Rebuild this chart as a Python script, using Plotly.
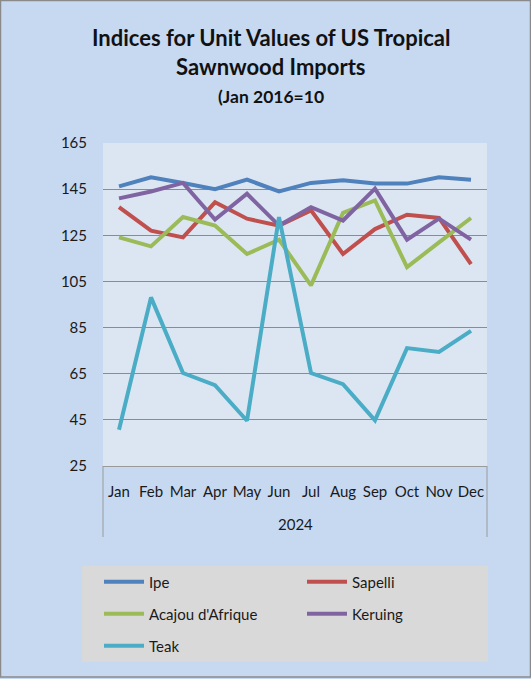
import plotly.graph_objects as go

months = ["Jan", "Feb", "Mar", "Apr", "May", "Jun", "Jul", "Aug", "Sep", "Oct", "Nov", "Dec"]
year_label = "2024"
ipe = [146.2, 150.1, 147.7, 145.0, 149.1, 144.0, 147.7, 148.8, 147.4, 147.4, 150.1, 149.1]
sapelli = [137.2, 127.0, 124.1, 139.3, 132.2, 129.2, 135.8, 116.9, 127.7, 133.9, 132.5, 112.5]
acajou = [124.1, 120.2, 132.9, 129.2, 116.9, 123.1, 103.3, 134.7, 140.1, 111.2, 121.9, 132.5]
keruing = [141.0, 144.0, 147.7, 131.8, 143.0, 129.2, 137.2, 131.4, 145.2, 123.1, 132.2, 123.1]
teak = [40.7, 98.1, 65.3, 60.0, 44.6, 132.9, 65.3, 60.5, 44.8, 76.1, 74.4, 83.6]
y_ticks = [25, 45, 65, 85, 105, 125, 145, 165]

W, H = 531, 679
L, R, T, B = 103, 44, 143, 213
pw, ph = W - L - R, H - T - B


def px(x):
    return (x - L) / pw


def py(y):
    return (H - B - y) / ph


# (name, values, colour, legend id, legend left px, legend row centre px)
series = [
    ("Ipe", ipe, "#4F81BD", "legend", 99, 582),
    ("Sapelli", sapelli, "#C0504D", "legend2", 302, 582),
    ("Acajou d'Afrique", acajou, "#9BBB59", "legend3", 99, 614),
    ("Keruing", keruing, "#8064A2", "legend4", 302, 614),
    ("Teak", teak, "#4BACC6", "legend5", 99, 646),
]

FONT = "Lato"
TXT = "#1a1a1a"
fig = go.Figure()
legends = {}
for name, vals, color, lg, lx, ly in series:
    fig.add_trace(go.Scatter(x=months, y=vals, name=name, mode="lines",
                             line=dict(color=color, width=4), legend=lg))
    legends[lg] = dict(x=px(lx), y=py(ly), xanchor="left", yanchor="middle",
                       bgcolor="rgba(0,0,0,0)", itemwidth=40,
                       font=dict(family=FONT, size=15, color=TXT))

fig.update_layout(
    width=W, height=H,
    margin=dict(l=L, r=R, t=T, b=B),
    paper_bgcolor="#C6D9F1",
    plot_bgcolor="#DCE6F2",
    font=dict(family=FONT, size=15, color=TXT),
    showlegend=True,
    **legends,
    xaxis=dict(type="category", range=[-0.5, 11.5], showgrid=False, showline=True,
               linecolor="#9a9a9a", linewidth=1, ticks="", ticklabelstandoff=12,
               tickfont=dict(family=FONT, size=15, color=TXT), fixedrange=True),
    yaxis=dict(range=[25, 165], tickvals=y_ticks, showgrid=True, gridcolor="#8c8c8c", gridwidth=1,
               zeroline=False, showline=False, ticks="", ticklabelstandoff=15,
               tickfont=dict(family=FONT, size=15, color=TXT), fixedrange=True),
)

# title lines
for text, cy, size in [("<b>Indices for Unit Values of US Tropical</b>", 37, 22),
                       ("<b>Sawnwood Imports</b>", 67, 22),
                       ("<b>(Jan 2016=10</b>", 96, 17.5)]:
    fig.add_annotation(text=text, x=px(271), y=py(cy), xref="paper", yref="paper", showarrow=False,
                       xanchor="center", yanchor="middle",
                       font=dict(family=FONT, size=size, color="#111111"))
# group label
fig.add_annotation(text=year_label, x=0.5, y=py(524), xref="paper", yref="paper", showarrow=False,
                   xanchor="center", yanchor="middle", font=dict(family=FONT, size=15, color=TXT))

# group dividers
for xv in (0, 1):
    fig.add_shape(type="line", xref="paper", yref="paper", x0=xv, x1=xv, y0=0, y1=py(537),
                  line=dict(color="#9a9a9a", width=1))
# legend box
fig.add_shape(type="rect", xref="paper", yref="paper", x0=px(82), x1=px(488), y0=py(566), y1=py(662),
              fillcolor="#D9D9D9", line=dict(width=0), layer="below")
# outer border
fig.add_shape(type="rect", xref="paper", yref="paper", x0=px(0.5), x1=px(530.5), y0=py(0.5), y1=py(677),
              line=dict(color="#8a8a8a", width=1.5))

fig.write_html("out.html", config={"displayModeBar": False},
               post_script="document.body.style.margin='0';document.body.style.overflow='hidden';")
